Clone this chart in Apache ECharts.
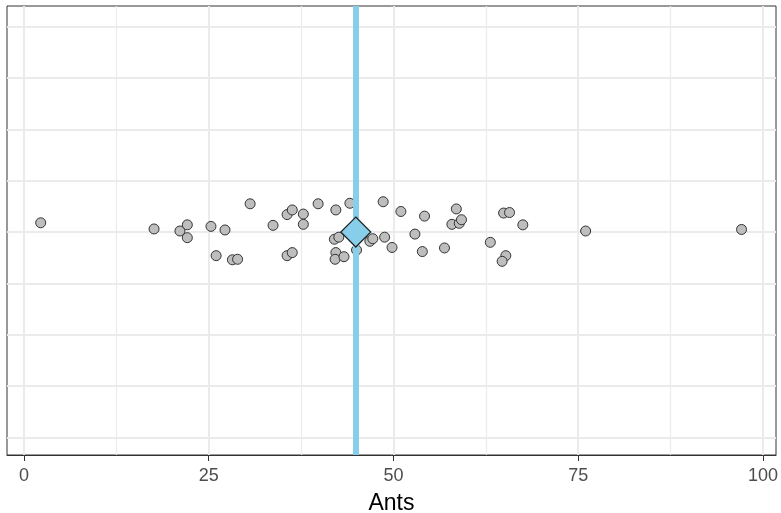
<!DOCTYPE html>
<html>
<head>
<meta charset="utf-8">
<script src="https://cdn.jsdelivr.net/npm/echarts@6/dist/echarts.min.js"></script>
<style>
html,body{margin:0;padding:0;background:#fff;}
#chart{width:781px;height:513px;}
</style>
</head>
<body>
<div id="chart"></div>
<script>
const antValues = [2.26,17.6,21.1,22.1,22.1,25.3,27.2,30.6,26.0,28.2,28.9,33.7,35.6,36.3,37.8,37.8,39.8,42.2,44.1,48.6,42.0,42.6,35.6,36.3,42.2,42.1,43.3,45.0,46.8,47.2,48.8,51.0,54.2,58.5,57.9,58.9,59.2,64.9,65.7,67.5,52.9,49.8,53.9,56.9,63.1,65.2,64.7,76.0,97.1];
const jitterOffsets = [0.18,0.06,0.02,0.14,-0.11,0.11,0.04,0.55,-0.46,-0.54,-0.53,0.13,0.34,0.43,0.35,0.15,0.55,0.43,0.56,0.59,-0.14,-0.10,-0.46,-0.40,-0.40,-0.53,-0.48,-0.35,-0.18,-0.13,-0.10,0.40,0.31,0.45,0.15,0.17,0.24,0.37,0.38,0.14,-0.04,-0.30,-0.38,-0.31,-0.20,-0.46,-0.57,0.02,0.05];
const meanValue = 44.9;
const xTicks = [0,25,50,75,100];
const xMinorGrid = [12.5,37.5,62.5,87.5];
const yGrid = [-4,-3,-2,-1,0,1,2,3,4];

const points = antValues.map((v,i)=>[v, jitterOffsets[i]]);

const gridLines = [];
yGrid.forEach(v=>gridLines.push({yAxis:v, lineStyle:{color:'#EBEBEB', width:2, type:'solid'}}));
xMinorGrid.forEach(v=>gridLines.push({xAxis:v, lineStyle:{color:'#EBEBEB', width:1.2, type:'solid'}}));
xTicks.forEach(v=>gridLines.push({xAxis:v, lineStyle:{color:'#EBEBEB', width:2, type:'solid'}}));

const chart = echarts.init(document.getElementById('chart'), null, {renderer:'canvas'});
chart.setOption({
  animation:false,
  backgroundColor:'#ffffff',
  textStyle:{fontFamily:'Liberation Sans'},
  grid:{left:7, right:5, top:6, bottom:58, show:true, borderColor:'#333333', borderWidth:1, containLabel:false, outerBoundsMode:'none'},
  xAxis:{
    type:'value', min:-2.3, max:101.76,
    axisLine:{show:true, onZero:false, lineStyle:{color:'#333333', width:1}},
    axisTick:{show:true, customValues:xTicks, length:6, lineStyle:{color:'#333333', width:1}},
    axisLabel:{show:true, customValues:xTicks, color:'#4D4D4D', fontSize:18, margin:12, fontFamily:'Liberation Sans'},
    splitLine:{show:false},
    name:'Ants', nameLocation:'middle', nameGap:37,
    nameTextStyle:{color:'#000000', fontSize:23, fontFamily:'Liberation Sans'}
  },
  yAxis:{
    type:'value', min:-4.34, max:4.4,
    axisLine:{show:false}, axisTick:{show:false}, axisLabel:{show:false}, splitLine:{show:false}
  },
  series:[
    {
      type:'line', data:[], z:0, silent:true,
      markLine:{z:0, silent:true, symbol:['none','none'], label:{show:false}, animation:false, data:gridLines}
    },
    {
      type:'scatter', data:points, z:2, symbol:'circle', symbolSize:10,
      itemStyle:{color:'#BEBEBE', borderColor:'#333333', borderWidth:1, opacity:1}
    },
    {
      type:'line', data:[], z:3, silent:true,
      markLine:{z:3, silent:true, symbol:['none','none'], label:{show:false}, animation:false,
        data:[{xAxis:meanValue, lineStyle:{color:'#87CEEB', width:6, type:'solid'}}]}
    },
    {
      type:'scatter', data:[[meanValue,0]], z:6, symbol:'diamond', symbolSize:[30,30],
      itemStyle:{color:'#87CEEB', borderColor:'#222222', borderWidth:1.2, opacity:1}
    }
  ]
});
</script>
</body>
</html>
